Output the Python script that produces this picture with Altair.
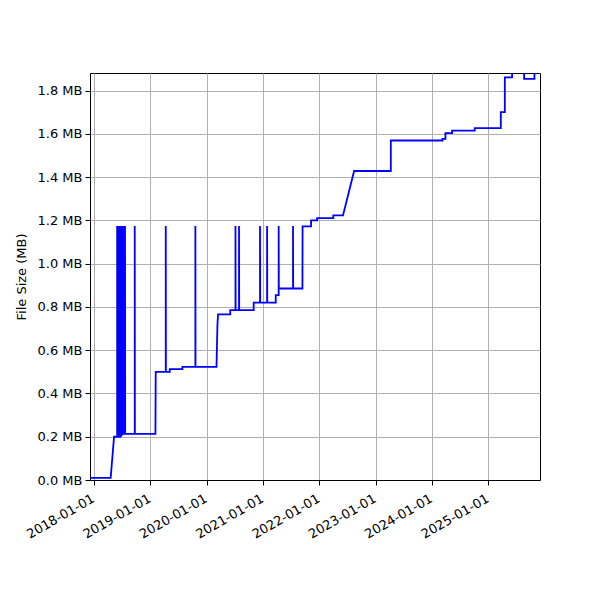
import altair as alt
import pandas as pd

# Vertices of the file-size history (date, size in MB), in drawing order
dates = [
    "2017-12-06", "2018-04-19", "2018-05-11", "2018-05-30",
    # dense burst of spikes mid-2018
    "2018-05-31", "2018-05-31", "2018-06-01",
    "2018-06-07", "2018-06-07", "2018-06-08",
    "2018-06-13", "2018-06-13", "2018-06-14",
    "2018-06-20", "2018-06-20", "2018-06-21",
    "2018-06-26", "2018-06-26", "2018-06-27",
    "2018-07-03", "2018-07-03", "2018-07-04",
    "2018-07-09", "2018-07-09", "2018-07-10",
    "2018-07-16", "2018-07-16", "2018-07-17",
    "2018-07-21", "2018-07-21", "2018-07-22",
    "2018-09-22", "2018-09-22", "2018-09-23",
    "2019-02-03", "2019-02-05",
    "2019-04-11", "2019-04-11", "2019-04-12",
    "2019-05-07", "2019-05-07",
    "2019-07-28", "2019-07-28",
    "2019-10-20", "2019-10-20", "2019-10-21",
    "2020-03-05", "2020-03-11", "2020-03-15",
    "2020-06-02", "2020-06-02",
    "2020-07-06", "2020-07-06", "2020-07-07",
    "2020-07-29", "2020-07-29", "2020-07-30",
    "2020-11-01", "2020-11-01",
    "2020-12-12", "2020-12-12", "2020-12-13",
    "2021-01-27", "2021-01-27", "2021-01-28",
    "2021-03-24", "2021-03-24",
    "2021-04-12", "2021-04-12", "2021-04-13",
    "2021-07-14", "2021-07-14", "2021-07-15",
    "2021-09-13", "2021-09-14",
    "2021-11-08", "2021-11-08",
    "2021-12-17", "2021-12-17",
    "2022-04-01", "2022-04-01",
    "2022-06-03", "2022-08-14",
    "2023-04-09", "2023-04-09",
    "2024-03-09", "2024-03-09",
    "2024-03-28", "2024-03-28",
    "2024-05-10", "2024-05-10",
    "2024-10-04", "2024-10-04",
    "2025-03-22", "2025-03-22",
    "2025-04-17", "2025-04-17",
    "2025-06-03", "2025-06-03",
    "2025-08-20", "2025-08-20",
    "2025-10-26", "2025-10-26", "2025-11-30",
]
sizes = [
    0.010, 0.010, 0.200, 0.200,
    0.200, 1.174, 0.200,
    0.200, 1.174, 0.200,
    0.200, 1.174, 0.200,
    0.200, 1.174, 0.205,
    0.205, 1.174, 0.210,
    0.210, 1.174, 0.213,
    0.213, 1.174, 0.213,
    0.213, 1.174, 0.213,
    0.213, 1.174, 0.213,
    0.213, 1.174, 0.213,
    0.213, 0.500,
    0.500, 1.174, 0.500,
    0.500, 0.512,
    0.512, 0.523,
    0.523, 1.174, 0.523,
    0.523, 0.715, 0.765,
    0.765, 0.785,
    0.785, 1.174, 0.785,
    0.785, 1.174, 0.785,
    0.785, 0.820,
    0.820, 1.174, 0.820,
    0.820, 1.174, 0.820,
    0.820, 0.854,
    0.854, 1.174, 0.885,
    0.885, 1.174, 0.885,
    0.885, 1.172,
    1.172, 1.200,
    1.200, 1.210,
    1.210, 1.223,
    1.223, 1.428,
    1.428, 1.569,
    1.569, 1.577,
    1.577, 1.603,
    1.603, 1.615,
    1.615, 1.626,
    1.626, 1.700,
    1.700, 1.861,
    1.861, 1.950,
    1.950, 1.854,
    1.854, 1.950, 1.950,
]

df = pd.DataFrame({"date": dates, "size": sizes, "i": range(len(dates))})

y_ticks = [0.0, 0.2, 0.4, 0.6, 0.8, 1.0, 1.2, 1.4, 1.6, 1.8]
x_years = list(range(2018, 2026))

font = "DejaVu Sans"

chart = alt.Chart(df).mark_line(
    color="#0000ff", strokeWidth=1.8, clip=True
).encode(
    x=alt.X(
        "date:T",
        scale=alt.Scale(
            type="utc",
            domain=[
                alt.DateTime(year=2017, month=12, date=6, utc=True),
                alt.DateTime(year=2025, month=12, date=1, utc=True),
            ],
        ),
        axis=alt.Axis(
            values=[alt.DateTime(year=y, month=1, date=1, utc=True) for y in x_years],
            labelExpr="utcFormat(datum.value, '%Y-%m-%d')",
            labelAngle=330,
            labelAlign="right",
            labelBaseline="top",
            labelOverlap=False,
            labelPadding=7,
            labelOffset=-4,
            title=None,
        ),
    ),
    y=alt.Y(
        "size:Q",
        scale=alt.Scale(domain=[0, 1.881], nice=False, zero=False),
        axis=alt.Axis(
            values=y_ticks,
            labelExpr="format(datum.value, '.1f') + ' MB'",
            title="File Size (MB)",
            titlePadding=9,
            labelPadding=3,
        ),
    ),
    order=alt.Order("i:Q"),
).properties(
    width=450,
    height=407,
    background="white",
    autosize=alt.AutoSizeParams(type="none"),
    padding={"left": 82, "top": 65, "right": 52, "bottom": 100},
).configure_view(
    stroke="black", strokeWidth=1
).configure_axis(
    labelFont=font,
    titleFont=font,
    labelFontSize=13,
    titleFontSize=13,
    titleFontWeight="normal",
    labelColor="black",
    titleColor="black",
    domainColor="black",
    domainWidth=1,
    tickColor="black",
    tickWidth=1,
    tickSize=5,
    grid=True,
    gridColor="#b0b0b0",
    gridOpacity=1,
    gridWidth=1,
)

chart.save("out.html", embed_options={"renderer": "svg", "actions": False})
